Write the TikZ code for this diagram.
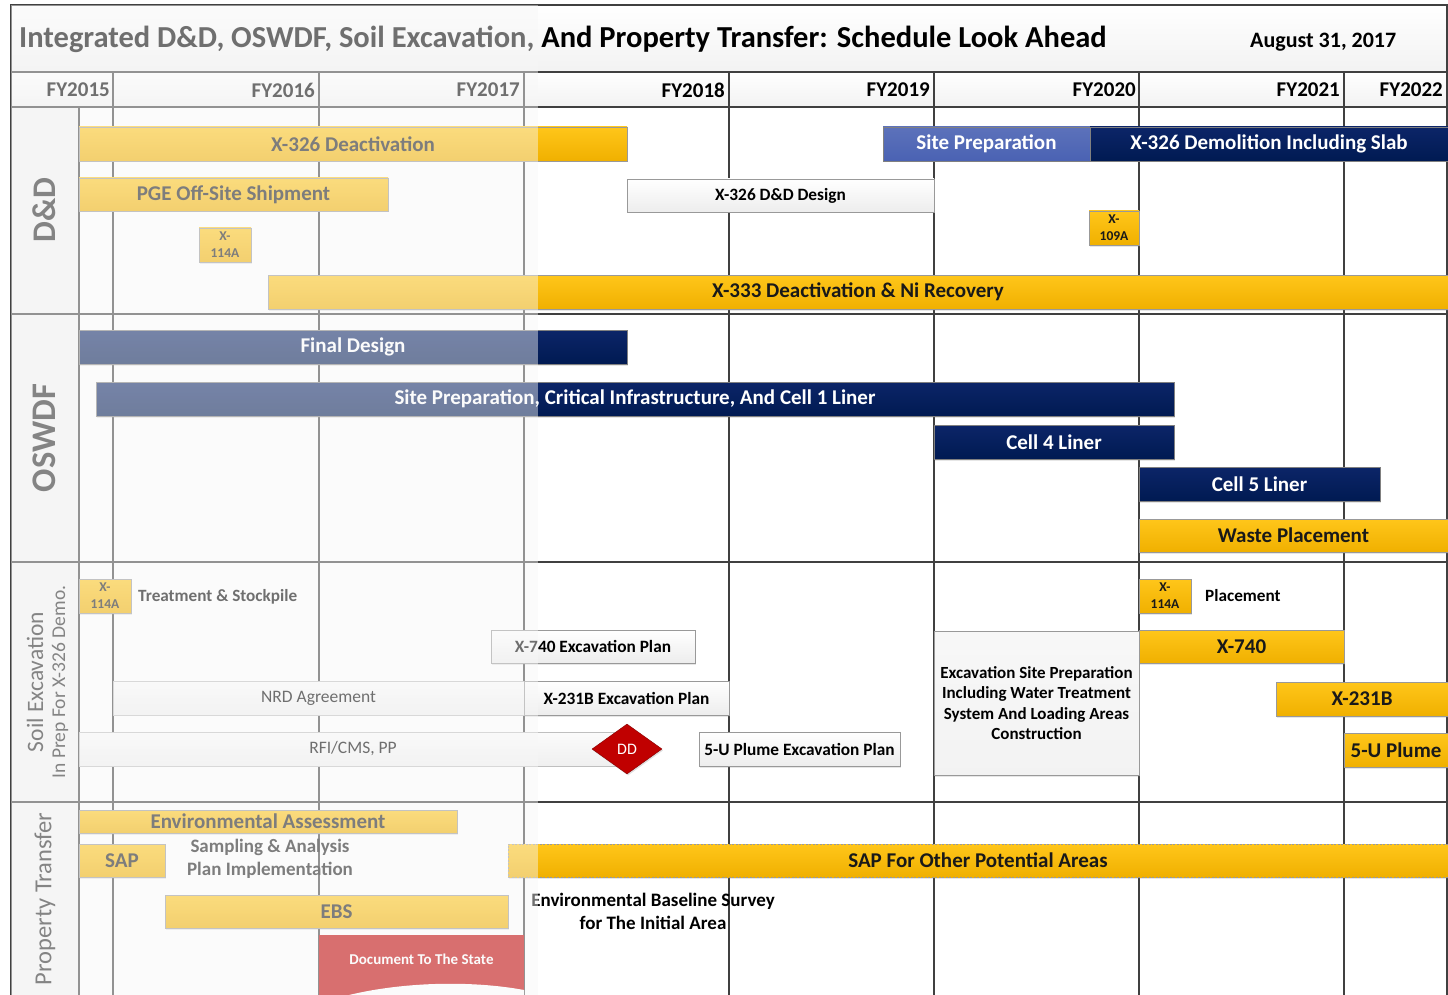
\documentclass[tikz,border=0pt]{standalone}
\usepackage{fontspec}
\setmainfont{Carlito}
\usepackage{tikz}
\usetikzlibrary{shapes.geometric,shadows}
\definecolor{barYl}{HTML}{FFC61A}
\definecolor{barYlDk}{HTML}{F0B000}
\definecolor{navyTop}{HTML}{0C2568}
\definecolor{navy}{HTML}{001A52}
\definecolor{midblue}{HTML}{4A62B3}
\definecolor{ddred}{HTML}{C00000}
\definecolor{gridcol}{HTML}{404040}

\begin{document}
\begin{tikzpicture}[x=1pt,y=-1pt,
  every node/.style={inner sep=0pt,font=\bfseries\fontsize{21}{24}\selectfont},
  ybar/.style={rectangle,draw=black!40,line width=.6pt,top color=barYl,bottom color=barYlDk,
    minimum height=34pt,text=black!90,drop shadow={opacity=.2,shadow xshift=1pt,shadow yshift=-1.5pt}},
  nbar/.style={rectangle,draw=black!50,line width=.6pt,top color=navyTop,bottom color=navy,
    minimum height=34pt,text=white,drop shadow={opacity=.2,shadow xshift=1pt,shadow yshift=-1.5pt}},
  wbox/.style={rectangle,draw=black!40,line width=.6pt,top color=white,bottom color=gray!14,
    minimum height=33pt,font=\bfseries\fontsize{17.3}{20}\selectfont,
    drop shadow={opacity=.2,shadow xshift=1pt,shadow yshift=-1.5pt}},
  gbox/.style={rectangle,draw=black!25,line width=.6pt,top color=gray!3,bottom color=gray!12,
    minimum height=34pt,font=\fontsize{17.5}{20}\selectfont},
  tiny/.style={ybar,minimum width=52pt,align=center,font=\bfseries\fontsize{13.5}{17}\selectfont},
  fy/.style={anchor=east,font=\bfseries\fontsize{21}{24}\selectfont},
  side/.style={rotate=90,text=black!85},
  grid/.style={draw=gridcol,line width=1.2pt},
  sep/.style={draw=gridcol,line width=2pt}]
\useasboundingbox (0,0) rectangle (1448,995);

\fill[top color=white,bottom color=gray!10] (11,5) rectangle (1447,72);
\fill[top color=white,bottom color=gray!10] (11,72) rectangle (1447,107);
\fill[gray!9] (11,107) rectangle (79,995);

\foreach \y in {72,107} \draw[grid] (11,\y) -- (1447,\y);
\foreach \y in {314,562,802} \draw[sep] (11,\y) -- (1447,\y);
\foreach \x in {113,319,524,729,934,1139,1344} \draw[grid] (\x,72) -- (\x,995);
\draw[grid] (79,107) -- (79,995);
\draw[grid] (11,995) -- (11,5) -- (1447,5) -- (1447,995);

\node[anchor=west,font=\bfseries\fontsize{30.5}{33}\selectfont] (t1) at (19,39)
  {Integrated D\&D, OSWDF, Soil Excavation, And Property Transfer: Schedule Look Ahead};
\node[anchor=west,font=\bfseries\fontsize{22}{26}\selectfont] (t2) at (1250,42) {August 31, 2017};

\foreach \x/\n in {110/2015,315/2016,520/2017,725/2018,930/2019,1136/2020,1340/2021,1443/2022}
  \node[fy] (fy\n) at (\x,90) {FY\n};

\node[side,font=\bfseries\fontsize{33}{36}\selectfont] (l1) at (44,210) {D\&D};
\node[side,font=\bfseries\fontsize{34.5}{37}\selectfont] (l2) at (44,438) {OSWDF};
\node[side,font=\fontsize{23.5}{26}\selectfont] (l3) at (35,682) {Soil Excavation};
\node[side,font=\fontsize{19.5}{22}\selectfont] (l4) at (60,682) {In Prep For X-326 Demo.};
\node[side,font=\fontsize{24.5}{27}\selectfont] (l5) at (45,899) {Property Transfer};

\node[ybar,minimum width=548pt] (d1) at (353,144) {X-326 Deactivation};
\node[ybar,minimum width=309pt,minimum height=33pt] (d2) at (233.5,194.5) {PGE Off-Site Shipment};
\node[tiny] (d3) at (225,245) {X-\\114A};
\node[ybar,minimum width=1180pt] (d4) at (858,292) {X-333 Deactivation \& Ni Recovery};
\node[wbox,minimum width=307pt] (d5) at (780.5,195.5) {X-326 D\&D Design};
\node[nbar,top color=midblue!90!white,bottom color=midblue,minimum width=207pt] (d6) at (986.5,144) {Site Preparation};
\node[nbar,minimum width=358pt] (d7) at (1269,144) {X-326 Demolition Including Slab};
\node[tiny,minimum width=50pt] (d8) at (1114,228) {X-\\109A};

\node[nbar,minimum width=548pt] (o1) at (353,347) {Final Design};
\node[nbar,minimum width=1078pt] (o2) at (635,399) {Site Preparation, Critical Infrastructure, And Cell 1 Liner};
\node[nbar,minimum width=240pt] (o3) at (1054,442) {Cell 4 Liner};
\node[nbar,minimum width=241pt] (o4) at (1259.5,484) {Cell 5 Liner};
\node[ybar,minimum width=309pt,minimum height=33pt] (o5) at (1293.5,535.5) {Waste Placement};

\node[tiny] (s1) at (105,596) {X-\\114A};
\node[anchor=west,font=\bfseries\fontsize{17.2}{20}\selectfont] (s2) at (138,597) {Treatment \& Stockpile};
\node[gbox,minimum width=411pt] (s4) at (318.5,698) {NRD Agreement};
\node[gbox,minimum width=548pt] (s6) at (353,749) {RFI/CMS, PP};
\node[wbox,minimum width=204pt] (s3) at (593,646.5) {X-740 Excavation Plan};
\node[wbox,minimum width=205pt,minimum height=34pt] (s5) at (626.5,698) {X-231B Excavation Plan};
\node[diamond,aspect=1.4,fill=ddred,draw=ddred!70!black,minimum width=70pt,minimum height=50pt,
  text=white,font=\fontsize{16}{18}\selectfont,drop shadow={opacity=.25,shadow xshift=1pt,shadow yshift=-1.5pt}] (s7) at (627,749) {DD};
\node[wbox,minimum width=201pt,minimum height=34pt] (s8) at (799.5,749) {5-U Plume Excavation Plan};
\node[wbox,top color=gray!6,bottom color=gray!10,minimum width=205pt,minimum height=144pt,align=center,
  font=\bfseries\fontsize{17}{20.5}\selectfont] (s9) at (1036.5,703)
  {Excavation Site Preparation\\Including Water Treatment\\System And Loading Areas\\Construction};
\node[tiny] (s10) at (1165,596) {X-\\114A};
\node[anchor=west,font=\bfseries\fontsize{17.2}{20}\selectfont] (s11) at (1205,596) {Placement};
\node[ybar,minimum width=205pt,minimum height=33pt] (s12) at (1241.5,646.5) {X-740};
\node[ybar,minimum width=172pt] (s13) at (1362,699) {X-231B};
\node[ybar,minimum width=104pt] (s14) at (1396,750) {5-U Plume};

\node[ybar,minimum width=378pt,minimum height=23pt] (p1) at (268,821.5) {Environmental Assessment};
\node[ybar,minimum width=86pt,minimum height=33pt] (p2) at (122,860.5) {SAP};
\node[align=center,text=black!90,font=\bfseries\fontsize{19}{23}\selectfont] (p3) at (270,859)
  {Sampling \& Analysis\\Plan Implementation};
\node[ybar,dash pattern=on 2pt off 1.5pt,minimum width=940pt,minimum height=33pt] (p4) at (978,860.5) {SAP For Other Potential Areas};
\node[ybar,minimum width=343pt,minimum height=33pt] (p5) at (336.5,911.5) {EBS};
\node[align=center,font=\bfseries\fontsize{19}{23}\selectfont] (p6) at (653,911.5)
  {Environmental Baseline Survey\\for The Initial Area};
\fill[ddred] (319,935) rectangle (524,995);
\fill[white] (345,996) .. controls (400,982) and (470,980) .. (524,990) -- (524,996) -- cycle;
\node[text=white,font=\bfseries\fontsize{15}{18}\selectfont] (p7) at (421.5,959) {Document To The State};

\fill[gray!6,fill opacity=.45] (11,5) rectangle (538,995);
\end{tikzpicture}
\end{document}
